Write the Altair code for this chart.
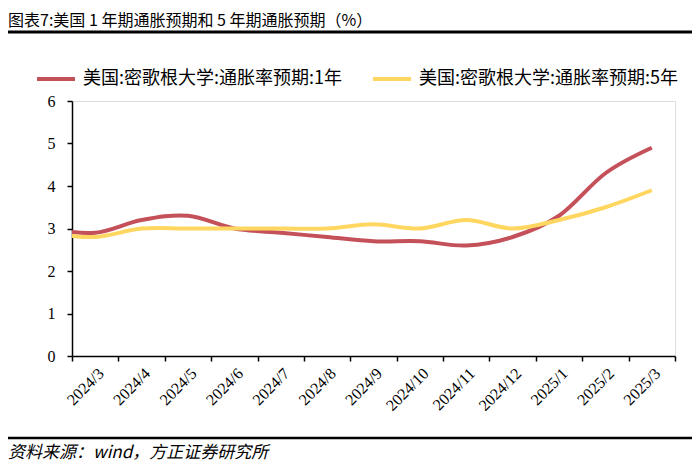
import altair as alt
import pandas as pd

months = ["2024/3", "2024/4", "2024/5", "2024/6", "2024/7", "2024/8", "2024/9",
          "2024/10", "2024/11", "2024/12", "2025/1", "2025/2", "2025/3"]
exp_1y = [2.9, 3.2, 3.3, 3.0, 2.9, 2.8, 2.7, 2.7, 2.6, 2.8, 3.3, 4.3, 4.9]
exp_5y = [2.8, 3.0, 3.0, 3.0, 3.0, 3.0, 3.1, 3.0, 3.2, 3.0, 3.2, 3.5, 3.9]
# previous month: the reference lines enter from the left edge of the plot
lead_1y = 3.0
lead_5y = 2.9

s1 = "美国:密歌根大学:通胀率预期:1年"
s5 = "美国:密歌根大学:通胀率预期:5年"
series_names = [s1, s5]
series_colors = ["#C4505A", "#FFD760"]
y_ticks = [0, 1, 2, 3, 4, 5, 6]

title_text = "图表7:美国 1 年期通胀预期和 5 年期通胀预期（%）"
source_text = "资料来源：wind，方正证券研究所"

W, H = 603, 255
CJK = "Noto Sans CJK SC"
SERIF = "Liberation Serif"

rows = []
for name, lead, vals in [(s1, lead_1y, exp_1y), (s5, lead_5y, exp_5y)]:
    seq = [lead] + vals
    for i, v in enumerate(seq):
        rows.append({"idx": i - 1, "series": name, "value": v})
df = pd.DataFrame(rows)

axis_layer = alt.Chart(pd.DataFrame({"month": months})).mark_point(opacity=0).encode(
    x=alt.X("month:N", sort=months,
            scale=alt.Scale(type="band", paddingInner=0, paddingOuter=0),
            axis=alt.Axis(title=None, orient="bottom", labelAngle=-45,
                          labelFont=SERIF, labelFontSize=16, labelColor="black",
                          tickBand="extent", tickColor="black", tickSize=5, tickWidth=1.5,
                          domainColor="black", domainWidth=1.5, labelPadding=4,
                          grid=False))
)

lines = alt.Chart(df).mark_line(strokeWidth=4, interpolate="cardinal", clip=True).encode(
    x=alt.X("idx:Q", scale=alt.Scale(domain=[-0.5, 12.5], nice=False, zero=False), axis=None),
    y=alt.Y("value:Q", scale=alt.Scale(domain=[0, 6], nice=False),
            axis=alt.Axis(values=y_ticks, title=None, grid=False, labelFont=SERIF,
                          labelFontSize=16, labelColor="black", tickColor="black",
                          tickSize=5, tickWidth=1.5, domainColor="black", domainWidth=1.5,
                          labelPadding=12)),
    color=alt.Color("series:N", scale=alt.Scale(domain=series_names, range=series_colors),
                    legend=alt.Legend(title=None, orient="none", legendX=-37, legendY=-43,
                                      direction="horizontal", symbolType="stroke",
                                      symbolStrokeWidth=4, symbolSize=1444,
                                      labelFont=CJK, labelFontSize=18, labelColor="black",
                                      labelOffset=6, columnPadding=22, labelLimit=400)),
)

title_mark = alt.Chart(pd.DataFrame({"t": [title_text]})).mark_text(
    align="left", baseline="alphabetic", font=CJK, fontSize=16, color="black"
).encode(text="t:N", x=alt.value(-64), y=alt.value(-75))

title_rule = alt.Chart(pd.DataFrame({"a": [0]})).mark_rule(color="black", strokeWidth=3).encode(
    x=alt.value(-64), x2=alt.value(620), y=alt.value(-69))

source_rule = alt.Chart(pd.DataFrame({"a": [0]})).mark_rule(color="black", strokeWidth=2.5).encode(
    x=alt.value(-64), x2=alt.value(620), y=alt.value(337))

source_mark = alt.Chart(pd.DataFrame({"t": [source_text]})).mark_text(
    align="left", baseline="alphabetic", font=CJK, fontSize=17, fontStyle="italic", color="black"
).encode(text="t:N", x=alt.value(-64), y=alt.value(357))

chart = alt.layer(axis_layer, lines, title_mark, title_rule, source_rule, source_mark).resolve_scale(
    x="independent"
).properties(
    width=W, height=H,
    autosize=alt.AutoSizeParams(type="none"),
    padding={"left": 64, "top": 93, "right": 17, "bottom": 109},
).configure_view(stroke=None).configure(background="white")

chart.save("out.html", embed_options={"renderer": "svg", "actions": False})
